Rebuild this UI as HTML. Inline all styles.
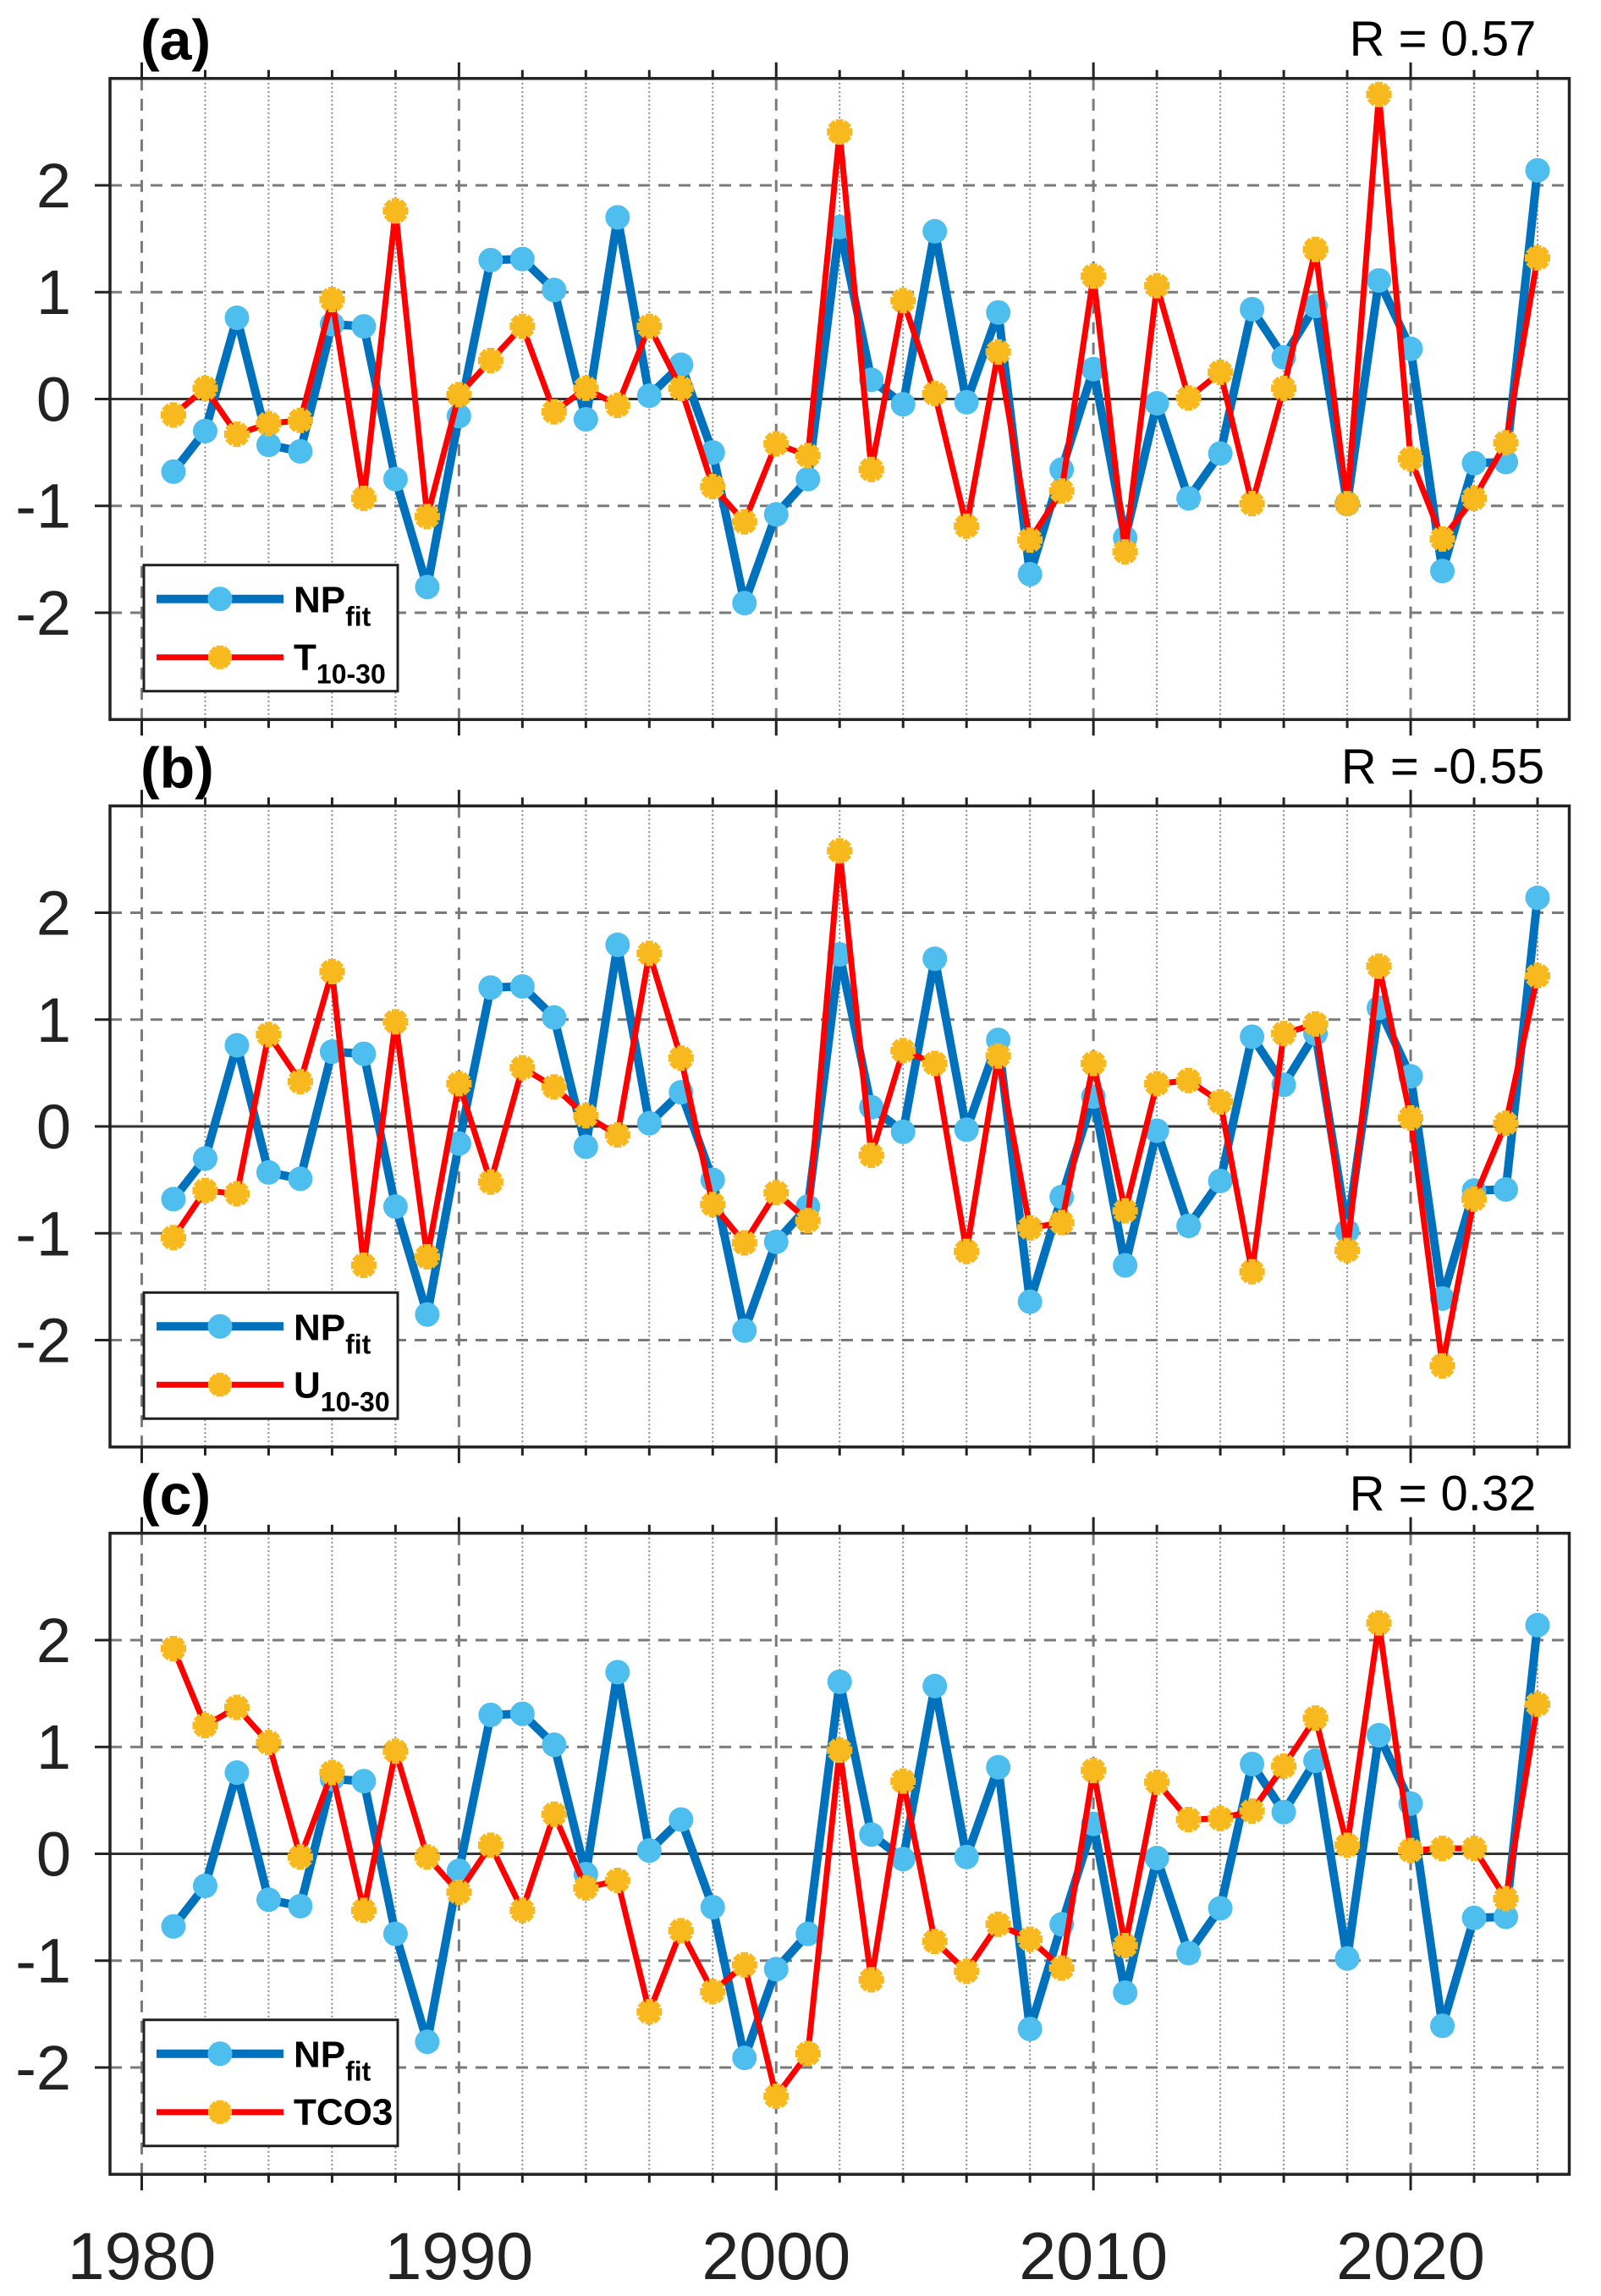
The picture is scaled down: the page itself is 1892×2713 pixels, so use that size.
<!DOCTYPE html>
<html><head><meta charset="utf-8"><style>
html,body{margin:0;padding:0;background:#fff;}
svg{display:block;font-family:"Liberation Sans",Arial,sans-serif;}
</style></head>
<body>
<svg id="fig" width="1892" height="2713" viewBox="0 0 1892 2713" xmlns="http://www.w3.org/2000/svg"></svg>
<script>
const years = [1981,1982,1983,1984,1985,1986,1987,1988,1989,1990,1991,1992,1993,1994,1995,1996,1997,1998,1999,2000,2001,2002,2003,2004,2005,2006,2007,2008,2009,2010,2011,2012,2013,2014,2015,2016,2017,2018,2019,2020,2021,2022,2023,2024];
const npFit = [-0.68,-0.3,0.76,-0.43,-0.49,0.7,0.68,-0.75,-1.76,-0.16,1.3,1.31,1.02,-0.19,1.7,0.03,0.32,-0.5,-1.91,-1.08,-0.75,1.61,0.18,-0.05,1.57,-0.03,0.81,-1.64,-0.66,0.28,-1.3,-0.04,-0.93,-0.51,0.84,0.39,0.87,-0.98,1.11,0.47,-1.61,-0.6,-0.59,2.14];
const t1030 = [-0.15,0.1,-0.33,-0.23,-0.2,0.93,-0.93,1.76,-1.1,0.04,0.36,0.68,-0.12,0.1,-0.06,0.68,0.1,-0.82,-1.15,-0.42,-0.53,2.5,-0.66,0.92,0.05,-1.19,0.44,-1.32,-0.86,1.15,-1.43,1.06,0.01,0.25,-0.98,0.1,1.4,-0.98,2.85,-0.56,-1.31,-0.93,-0.41,1.32];
const u1030 = [-1.04,-0.6,-0.63,0.86,0.42,1.45,-1.3,0.98,-1.22,0.4,-0.52,0.55,0.37,0.1,-0.08,1.62,0.64,-0.73,-1.09,-0.62,-0.88,2.58,-0.27,0.71,0.59,-1.17,0.66,-0.95,-0.9,0.59,-0.79,0.4,0.43,0.23,-1.36,0.87,0.96,-1.16,1.5,0.08,-2.24,-0.68,0.03,1.41];
const tco3 = [1.92,1.2,1.37,1.04,-0.03,0.76,-0.53,0.96,-0.03,-0.36,0.08,-0.53,0.37,-0.32,-0.25,-1.48,-0.72,-1.29,-1.04,-2.27,-1.87,0.97,-1.18,0.68,-0.82,-1.1,-0.66,-0.8,-1.07,0.78,-0.86,0.67,0.32,0.33,0.4,0.82,1.27,0.08,2.16,0.03,0.05,0.05,-0.42,1.4];
const panelLabels = ["(a)","(b)","(c)"];
const rLabels = ["R = 0.57","R = -0.55","R = 0.32"];
const legendMain = ["T","U",""];
const legendSub = ["10-30","10-30",""];
const legendPlain = ["","","TCO3"];
const yTicks = [-2,-1,0,1,2];
const xTickLabels = [1980,1990,2000,2010,2020];

const NS="http://www.w3.org/2000/svg";
const svg=document.getElementById('fig');
function mk(tag,attrs,parent){const e=document.createElementNS(NS,tag);for(const k in attrs)e.setAttribute(k,attrs[k]);(parent||svg).appendChild(e);return e;}
const X0=130,X1=1854.5,XMIN=1979,XMAX=2025;
const xs=v=>X0+(v-XMIN)/(XMAX-XMIN)*(X1-X0);
const tops=[92.7,952.3,1811.7];const H=757.5;
const series2=[t1030,u1030,tco3];
const panelNames=['panel-a','panel-b','panel-c'];

function star(g,cx,cy,r){
  for(let k=0;k<4;k++){const a=k*Math.PI/4;
    const l=mk('line',{x1:cx-r*Math.cos(a),y1:cy-r*Math.sin(a),x2:cx+r*Math.cos(a),y2:cy+r*Math.sin(a),stroke:'#F8B91F','stroke-width':9,'stroke-linecap':'butt'},g);
    
    }
  const c=mk('circle',{cx:cx,cy:cy,r:r*0.62,fill:'#F8B91F'},g);
  
  
}

for(let p=0;p<3;p++){
  const T=tops[p];
  const ys=v=>T+H/2-v*(H/6);
  const g=mk('g',{});
  
  
  for(let yr=1980;yr<=2024;yr+=2){
    const major=yr%10===0;
    const l=mk('line',{x1:xs(yr),x2:xs(yr),y1:T,y2:T+H,stroke:major?'#7a7a7a':'#888','stroke-width':major?3:2,'stroke-dasharray':major?'14,10':'2,3'},g);
    
    
    for(const yy of [T,T+H]){
      const dir=yy===T?-1:1;const len=major?19:10;
      const tk=mk('line',{x1:xs(yr),x2:xs(yr),y1:yy,y2:yy+dir*len,stroke:'#222','stroke-width':3},g);
      
      
    }
  }
  for(const v of yTicks){
    const l=mk('line',{x1:X0,x2:X1,y1:ys(v),y2:ys(v),stroke:v===0?'#333':'#7a7a7a','stroke-width':3,'stroke-dasharray':v===0?'none':'14,10'},g);
    
    
    const tk=mk('line',{x1:X0-18,x2:X0,y1:ys(v),y2:ys(v),stroke:'#222','stroke-width':3},g);
    
    
    const t=mk('text',{x:84,y:ys(v)+26,'text-anchor':'end','font-size':74,fill:'#222'},g);
    t.textContent=(v<0?'-':'')+Math.abs(v);
    
    
  }
  const box=mk('rect',{x:X0,y:T,width:X1-X0,height:H,fill:'none',stroke:'#222','stroke-width':3.5},g);
  
  
  const ptsNP=years.map((yr,i)=>xs(yr)+','+ys(npFit[i])).join(' ');
  const ptsS=years.map((yr,i)=>xs(yr)+','+ys(series2[p][i])).join(' ');
  const l1=mk('polyline',{points:ptsNP,fill:'none',stroke:'#0072BD','stroke-width':10,'stroke-linejoin':'round'},g);
  
  
  years.forEach((yr,i)=>{const c=mk('circle',{cx:xs(yr),cy:ys(npFit[i]),r:14.5,fill:'#4DBEEE'},g);
    
    });
  const l2=mk('polyline',{points:ptsS,fill:'none',stroke:'#FF0000','stroke-width':7,'stroke-linejoin':'round'},g);
  
  
  years.forEach((yr,i)=>star(g,xs(yr),ys(series2[p][i]),15));
  const pl=mk('text',{x:166,y:T-22,'font-size':68,'font-weight':'bold',fill:'#000'},g);
  pl.textContent=panelLabels[p];
  
  
  const rl=mk('text',{x:1705,y:T-27,'text-anchor':'middle','font-size':58,fill:'#000'},g);
  rl.textContent=rLabels[p];
  
  
  const lg=mk('g',{},g);
  
  
  const LT=T+575;
  mk('rect',{x:170,y:LT,width:300,height:149,fill:'#fff',stroke:'#222','stroke-width':3},lg);
  const e1=mk('line',{x1:185,x2:335,y1:LT+40,y2:LT+40,stroke:'#0072BD','stroke-width':10},lg);
  
  
  mk('circle',{cx:260,cy:LT+40,r:14.5,fill:'#4DBEEE'},lg);
  const e2=mk('line',{x1:185,x2:335,y1:LT+109,y2:LT+109,stroke:'#FF0000','stroke-width':7},lg);
  
  
  star(lg,260,LT+109,14);
  const t1=mk('text',{x:347,y:LT+56,'font-size':44,'font-weight':'bold',fill:'#000'},lg);
  t1.innerHTML='NP<tspan dy="16" font-size="32">fit</tspan>';
  
  
  const t2=mk('text',{x:347,y:LT+124,'font-size':44,'font-weight':'bold',fill:'#000'},lg);
  if(legendPlain[p]){t2.textContent=legendPlain[p];}
  else{t2.innerHTML=legendMain[p]+'<tspan dy="16" font-size="32">'+legendSub[p]+'</tspan>';}
  
  
}
for(const yr of xTickLabels){
  const t=mk('text',{x:xs(yr),y:2693,'text-anchor':'middle','font-size':79,fill:'#222'});
  t.textContent=yr;
  
  
}
</script>
</body></html>
